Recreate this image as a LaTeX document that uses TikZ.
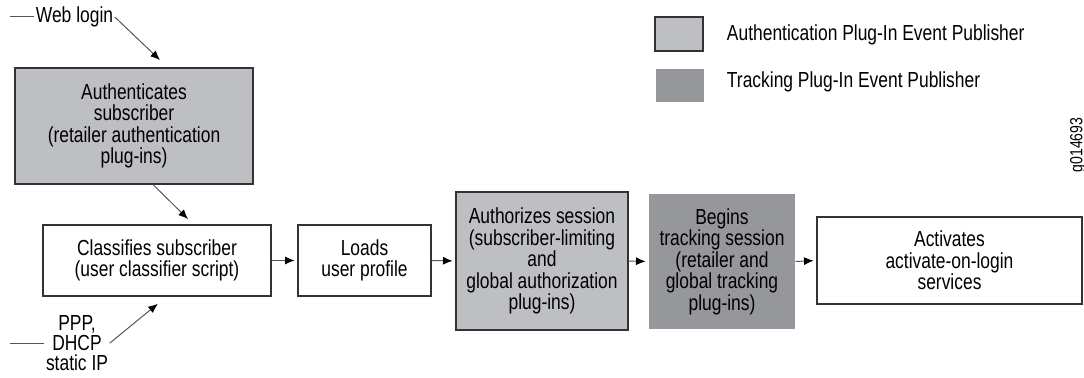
\documentclass[tikz,border=0pt]{standalone}
\usepackage{fontspec}
\setmainfont[FakeStretch=0.8]{Liberation Sans}
\usetikzlibrary{arrows.meta}
\definecolor{authfill}{HTML}{BEBFC2}
\definecolor{trackfill}{HTML}{96979B}
\definecolor{darkline}{HTML}{333333}
\definecolor{flowline}{HTML}{555555}
\tikzset{
  box/.style={
    rectangle,
    align=center,
    inner sep=0pt,
    line width=0.8pt,
    font=\fontsize{15.5}{15.3}\selectfont
  },
  plainbox/.style={box, draw=darkline, fill=white},
  authbox/.style={box, draw=darkline, fill=authfill},
  trackbox/.style={box, fill=trackfill},
  keytext/.style={anchor=west, font=\fontsize{15.5}{15.3}\selectfont},
  entry/.style={align=center, inner sep=1pt, font=\fontsize{15.5}{15.3}\selectfont},
  flow/.style={-{Latex[length=2.4mm, width=2mm, color=black]}, line width=0.7pt, draw=flowline, shorten >=2pt},
  lead/.style={line width=0.7pt, draw=flowline}
}

\begin{document}
\begin{tikzpicture}
\useasboundingbox (0,0) rectangle (27.1,9.45);

% Legend.
\node[authbox, minimum width=1.2cm, minimum height=0.85cm] (authkey) at (16.975,8.6) {};
\node[trackbox, minimum width=1.2cm, minimum height=0.825cm] (trackkey) at (17.0,7.3125) {};
\node[keytext] (authkeytext) at (18.05,8.575) {Authentication Plug-In Event Publisher};
\node[keytext] (trackkeytext) at (18.05,7.4) {Tracking Plug-In Event Publisher};
\node[rotate=90, font=\fontsize{12.5}{12.5}\selectfont] (figid) at (26.95,5.825) {g014693};

% Entry points.
\node[entry, font=\fontsize{15.5}{14.5}\selectfont] (ppp) at (1.925,0.87) {PPP,\\DHCP\\static IP};
\node[entry] (web) at (1.8625,9.025) {Web login};
\coordinate (webstart) at (0.25,9.025);
\coordinate (webend) at (4.05,7.9);
\coordinate (pppstart) at (0.25,0.87);
\coordinate (pppend) at (4.0,1.9);

% Steps.
\node[authbox, minimum width=5.95cm, minimum height=2.9cm] (auth) at (3.35,6.3)
  {Authenticates\\subscriber\\(retailer authentication\\plug-ins)};
\node[plainbox, minimum width=5.7cm, minimum height=1.775cm] (classify) at (3.925,2.9375)
  {Classifies subscriber\\(user classifier script)};
\node[plainbox, minimum width=3.325cm, minimum height=1.775cm] (loads) at (9.1125,2.9375)
  {Loads\\user profile};
\node[authbox, minimum width=4.3cm, minimum height=3.45cm] (authorize) at (13.55,2.925)
  {Authorizes session\\(subscriber-limiting\\and\\global authorization\\plug-ins)};
\node[trackbox, minimum width=3.65cm, minimum height=3.375cm] (tracking) at (18.05,2.9125)
  {Begins\\tracking session\\(retailer and\\global tracking\\plug-ins)};
\node[plainbox, minimum width=6.625cm, minimum height=2.175cm] (activate) at (23.7375,2.9375)
  {Activates\\activate-on-login\\services};
\coordinate (classifytop) at (4.75,3.925);

% Main flow.
\draw[lead] (webstart) -- (web.west);
\draw[flow] (web.east) -- (webend);
\draw[lead] (pppstart) -- (ppp.west);
\draw[flow] (ppp.east) -- (pppend);
\draw[flow] ([xshift=0.475cm]auth.south) -- (classifytop);
\draw[flow] (classify.east) -- (loads.west);
\draw[flow] (loads.east) -- (authorize.west);
\draw[flow] (authorize.east) -- (tracking.west);
\draw[flow] (tracking.east) -- (activate.west);

\end{tikzpicture}
\end{document}
